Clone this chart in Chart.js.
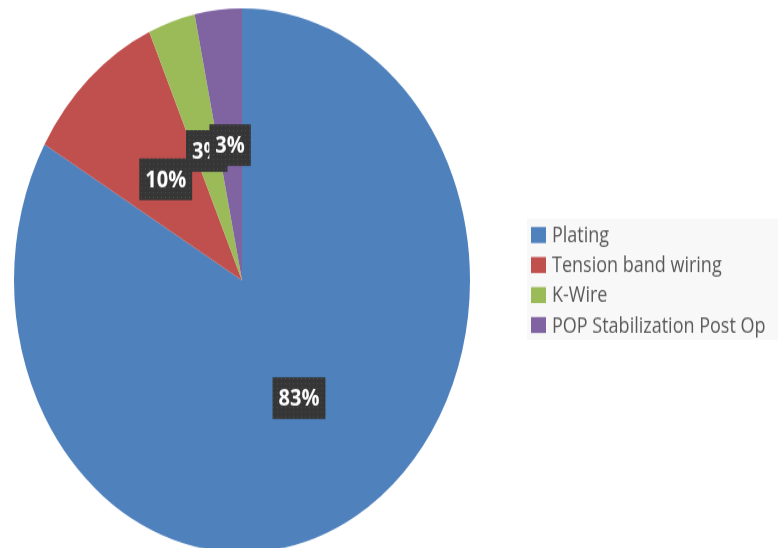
<!DOCTYPE html>
<html>
<head>
<meta charset="utf-8">
<script src="https://cdn.jsdelivr.net/npm/chart.js@4.4.1/dist/chart.umd.min.js"></script>
<style>
    html, body { margin: 0; padding: 0; background: #ffffff; overflow: hidden; }
    #wrap { width: 778px; height: 548px; overflow: hidden; }
    #stretch { transform: scale(1, 1.193); transform-origin: 0 0; }
</style>
</head>
<body>
<div id="wrap">
    <div id="stretch">
        <canvas id="fixationChart" width="778" height="464" style="width:778px;height:464px"></canvas>
    </div>
</div>
<script>
// fixation methods, number of cases
var categories = ['Plating', 'Tension band wiring', 'K-Wire', 'POP Stabilization Post Op'];
var cases = [25, 3, 1, 1];
var sliceColors = ['#4F81BD', '#C0504D', '#9BBB59', '#8064A2'];

var total = cases.reduce(function(a, b) { return a + b; }, 0);
var percentLabels = cases.map(function(v) { return Math.round(v / total * 100) + '%'; });

// dark speckled fill for the value boxes
function makeBoxPattern(ctx) {
    var p = document.createElement('canvas');
    p.width = 4;
    p.height = 4;
    var pc = p.getContext('2d');
    pc.fillStyle = '#363636';
    pc.fillRect(0, 0, 4, 4);
    pc.fillStyle = '#4a4a4a';
    pc.fillRect(1, 1, 1, 1);
    return ctx.createPattern(p, 'repeat');
}

var valueBoxes = {
    id: 'valueBoxes',
    afterDatasetsDraw: function(chart) {
        var ctx = chart.ctx;
        var meta = chart.getDatasetMeta(0);
        var fill = makeBoxPattern(ctx);
        ctx.save();
        ctx.font = 'bold 20px "Open Sans"';
        ctx.textAlign = 'center';
        ctx.textBaseline = 'middle';
        meta.data.forEach(function(arc, i) {
            var pos = arc.tooltipPosition();
            var text = percentLabels[i];
            var w = ctx.measureText(text).width + 12;
            var h = 35;
            ctx.fillStyle = fill;
            ctx.fillRect(pos.x - w / 2, pos.y - h / 2, w, h);
            ctx.fillStyle = '#ffffff';
            ctx.fillText(text, pos.x, pos.y + 1);
        });
        ctx.restore();
    }
};

var sideLegend = {
    id: 'sideLegend',
    afterDraw: function(chart) {
        var ctx = chart.ctx;
        var x = 527, y = 183, rowH = 25.15;
        ctx.save();
        ctx.fillStyle = '#f8f8f8';
        ctx.fillRect(x, y, 778 - x, 102);
        ctx.font = '18px "Open Sans"';
        ctx.textAlign = 'left';
        ctx.textBaseline = 'middle';
        categories.forEach(function(name, i) {
            var cy = y + 14 + i * rowH;
            ctx.fillStyle = sliceColors[i];
            ctx.fillRect(x + 4, cy - 6.7, 15, 13.4);
            ctx.fillStyle = '#595959';
            ctx.fillText(name, x + 25, cy + 1);
        });
        ctx.restore();
    }
};

var ctxPie = document.getElementById('fixationChart').getContext('2d');
window.fixationChart = new Chart(ctxPie, {
    type: 'pie',
    data: {
        labels: categories,
        datasets: [{
            data: cases,
            backgroundColor: sliceColors,
            borderWidth: 0
        }]
    },
    options: {
        responsive: false,
        animation: false,
        layout: {
            padding: { left: 14, right: 308, top: 7, bottom: 1 }
        },
        plugins: {
            legend: { display: false },
            tooltip: { enabled: false }
        }
    },
    plugins: [valueBoxes, sideLegend]
});
</script>
</body>
</html>
